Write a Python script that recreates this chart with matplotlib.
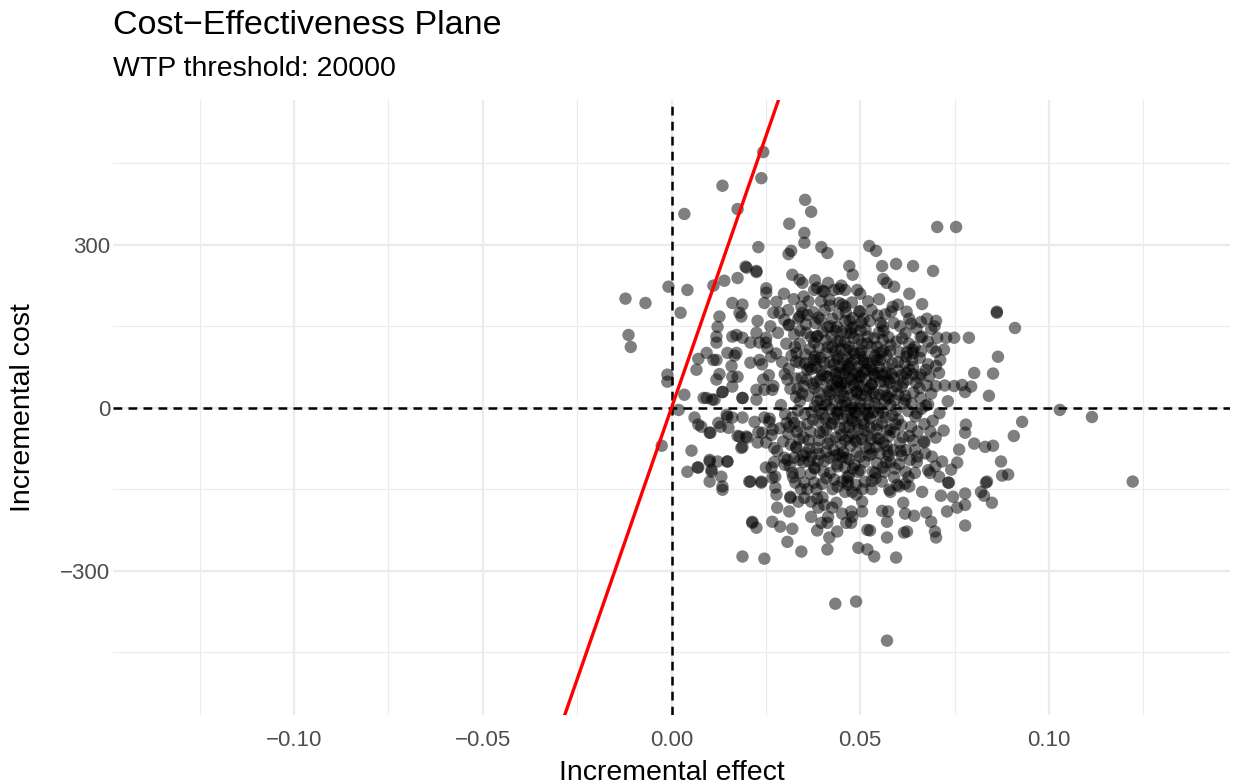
import numpy as np
import matplotlib.pyplot as plt

plt.rcParams['font.family'] = ['Liberation Sans', 'DejaVu Sans']

wtp = 20000

# (incremental effect, incremental cost), grouped by region
upper_pts = [
    (0.0243, 471), (0.0238, 423), (0.0135, 409), (0.0175, 366), (0.0034, 357),
    (0.0354, 383), (0.0370, 361), (0.0312, 339), (0.0352, 322), (0.0704, 333),
    (0.0754, 333), (0.0352, 304), (0.0230, 296), (0.0310, 283), (0.0317, 289),
    (0.0397, 296), (0.0413, 285), (0.0524, 298), (0.0542, 289), (0.0471, 261),
    (0.0196, 260), (0.0225, 252), (0.0175, 239), (0.0140, 234), (0.0111, 225),
    (0.0042, 217), (-0.0008, 223), (-0.0122, 201), (-0.0069, 193), (0.0024, 175),
    (0.0558, 261), (0.0595, 265), (0.0640, 261), (0.0693, 252), (0.0561, 237),
    (0.0590, 223), (0.0630, 210), (0.0664, 191), (0.0862, 177), (0.0677, 164),
]

left_pts = [
    (-0.0114, 134), (-0.0108, 112), (-0.0011, 61), (-0.0011, 48), (0.0019, -4),
    (-0.0026, -70), (0.0053, -79), (0.0042, -118), (0.0069, -110), (0.0101, -96),
    (0.0122, -99), (0.0148, -99), (0.0106, -118), (0.0132, -127), (0.0101, -136),
    (0.0135, -145), (0.0206, -136), (0.0238, -138), (0.0267, -129), (0.0034, 24),
    (0.0085, 18), (0.0108, 15), (0.0061, -18), (0.0071, -31), (0.0103, -46),
    (0.0130, -35), (0.0148, -17), (0.0188, 18), (0.0175, -52), (0.0198, -53),
    (0.0188, -72), (0.0071, 90), (0.0066, 70), (0.0093, 101), (0.0119, 88),
    (0.0119, 52), (0.0135, 29), (0.0161, 131), (0.0161, 57), (0.0175, 57),
    (0.0119, 131), (0.0119, 120), (0.0135, -151),
]

right_pts = [
    (0.0862, 175), (0.0910, 147), (0.0788, 129), (0.0865, 94), (0.0802, 64),
    (0.0852, 63), (0.0794, 39), (0.0778, 29), (0.0841, 22), (0.0749, 40),
    (0.1029, -4), (0.1114, -17), (0.0929, -26), (0.0907, -52), (0.0802, -66),
    (0.0831, -72), (0.0852, -70), (0.0873, -99), (0.0876, -125), (0.0892, -123),
    (0.0836, -136), (0.1222, -136), (0.0780, -31), (0.0778, -46), (0.0762, -77),
    (0.0757, -101), (0.0717, -99), (0.0741, -114), (0.0709, -127), (0.0733, -138),
]

lower_pts = [
    (0.0188, -274), (0.0246, -278), (0.0434, -361), (0.0489, -357), (0.0571, -429),
    (0.0344, -265), (0.0307, -247), (0.0214, -212), (0.0225, -221), (0.0288, -219),
    (0.0320, -223), (0.0280, -184), (0.0312, -191), (0.0278, -160), (0.0315, -164),
    (0.0336, -173), (0.0370, -173), (0.0386, -167), (0.0426, -184), (0.0437, -175),
    (0.0397, -212), (0.0413, -212), (0.0386, -226), (0.0418, -239), (0.0413, -261),
    (0.0439, -228), (0.0463, -212), (0.0476, -212), (0.0476, -191), (0.0505, -191),
    (0.0495, -258), (0.0519, -261), (0.0537, -274), (0.0519, -225), (0.0460, -155),
    (0.0466, -136), (0.0489, -142), (0.0505, -173), (0.0595, -276), (0.0571, -239),
    (0.0616, -230), (0.0624, -228), (0.0701, -239), (0.0698, -228), (0.0688, -210),
    (0.0675, -193), (0.0643, -199), (0.0619, -195), (0.0614, -175), (0.0664, -155),
    (0.0714, -162), (0.0746, -164), (0.0778, -158), (0.0778, -179), (0.0757, -184),
    (0.0730, -191), (0.0778, -217), (0.0849, -175), (0.0828, -162), (0.0820, -155),
    (0.0833, -138), (0.0574, -191), (0.0558, -190), (0.0571, -210), (0.0526, -226),
    (0.0577, -151), (0.0603, -145), (0.0619, -140), (0.0685, -120), (0.0735, -138),
]

mid_pts = [
    (0.0199, 258), (0.0225, 250), (0.0251, 220), (0.0251, 212), (0.0320, 245),
    (0.0339, 236), (0.0347, 230), (0.0378, 217), (0.0405, 214), (0.0415, 230),
    (0.0386, 221), (0.0431, 217), (0.0444, 219), (0.0460, 217), (0.0492, 217),
    (0.0278, 195), (0.0246, 193), (0.0161, 193), (0.0188, 190), (0.0180, 175),
    (0.0185, 168), (0.0127, 168), (0.0122, 149), (0.0228, 160), (0.0286, 175),
    (0.0299, 162), (0.0312, 153), (0.0339, 168), (0.0347, 175), (0.0389, 166),
    (0.0418, 199), (0.0444, 193), (0.0460, 186), (0.0497, 177), (0.0484, 149),
    (0.0503, 157), (0.0439, 149), (0.0465, 138), (0.0357, 138), (0.0384, 131),
    (0.0378, 120), (0.0225, 138), (0.0251, 129), (0.0233, 120), (0.0172, 134),
    (0.0188, 129), (0.0209, 120), (0.0172, 101), (0.0148, 101), (0.0254, 110),
    (0.0264, 94), (0.0167, 96), (0.0111, 88), (0.0233, 88), (0.0209, 83),
    (0.0159, 77), (0.0127, 62), (0.0243, 52), (0.0331, 101), (0.0339, 83),
    (0.0365, 75), (0.0384, 88), (0.0410, 101), (0.0426, 112), (0.0447, 123),
    (0.0463, 107), (0.0476, 83), (0.0307, 52), (0.0394, 52), (0.0476, 52),
    (0.0586, 186), (0.0582, 177), (0.0623, 177), (0.0661, 158), (0.0630, 164),
    (0.0701, 160), (0.0688, 145), (0.0664, 131), (0.0704, 129), (0.0728, 129),
    (0.0749, 129), (0.0722, 107), (0.0701, 103), (0.0638, 107), (0.0674, 70),
    (0.0701, 77), (0.0661, 61), (0.0677, 41), (0.0724, 41), (0.0770, 42),
    (0.0622, 94), (0.0640, 75), (0.0622, 64), (0.0648, 46), (0.0561, 105),
    (0.0553, 88), (0.0527, 75), (0.0540, 57), (0.0569, 64), (0.0580, 46),
    (0.0503, 105), (0.0511, 83), (0.0497, 57),
    (0.0093, 18), (0.0114, 15), (0.0135, 29), (0.0161, 39), (0.0188, 18),
    (0.0225, 33), (0.0246, 33), (0.0267, 33), (0.0225, 15), (0.0146, -13),
    (0.0161, -18), (0.0124, -28), (0.0151, -37), (0.0079, -35), (0.0101, -46),
    (0.0188, -18), (0.0220, -26), (0.0246, -18), (0.0259, -26), (0.0180, -53),
    (0.0201, -55), (0.0185, -74), (0.0228, -64), (0.0251, -64), (0.0272, -74),
    (0.0241, -46), (0.0265, -50), (0.0312, -35), (0.0325, -28), (0.0331, -74),
    (0.0101, -99), (0.0106, -114), (0.0148, -99), (0.0071, -110), (0.0299, -92),
    (0.0307, -96), (0.0339, -96), (0.0365, -99), (0.0378, -110), (0.0209, -136),
    (0.0238, -136), (0.0265, -110), (0.0275, -127), (0.0275, -147), (0.0320, -120),
    (0.0328, -138), (0.0352, -138), (0.0378, -138), (0.0315, -166), (0.0352, -166),
    (0.0214, -210), (0.0267, -210), (0.0357, -83), (0.0386, -74), (0.0410, -81),
    (0.0434, -88), (0.0452, -90), (0.0405, -179), (0.0389, -184), (0.0452, -136),
    (0.0468, -142), (0.0479, -155), (0.0452, -195), (0.0479, -201), (0.0370, -201),
    (0.0415, -201),
]

core_pts = [
    (0.031, 152), (0.034, 118), (0.036, 171), (0.038, 95), (0.040, 140),
    (0.042, 188), (0.044, 122), (0.046, 160), (0.048, 105), (0.050, 178),
    (0.052, 131), (0.054, 92), (0.056, 150), (0.058, 115), (0.060, 84),
    (0.062, 137), (0.064, 101), (0.030, 62), (0.033, 85), (0.035, 40),
    (0.037, 71), (0.039, 28), (0.041, 58), (0.043, 80), (0.045, 45),
    (0.047, 72), (0.049, 30), (0.051, 66), (0.053, 42), (0.055, 75),
    (0.057, 22), (0.059, 55), (0.061, 38), (0.063, 70), (0.066, 18),
    (0.029, 5), (0.032, -18), (0.034, 12), (0.036, -30), (0.038, 3),
    (0.040, -12), (0.042, 25), (0.044, -5), (0.046, 10), (0.048, -25),
    (0.050, 8), (0.052, -14), (0.054, 20), (0.056, -8), (0.058, 5),
    (0.060, -22), (0.062, 15), (0.065, -10), (0.068, 6), (0.031, -48),
    (0.033, -72), (0.035, -55), (0.037, -90), (0.039, -60), (0.041, -40),
    (0.043, -78), (0.045, -50), (0.047, -95), (0.049, -62), (0.051, -42),
    (0.053, -85), (0.055, -58), (0.057, -70), (0.059, -45), (0.061, -88),
    (0.063, -52), (0.067, -64), (0.030, -105), (0.034, -120), (0.038, -112),
    (0.041, -130), (0.044, -108), (0.047, -125), (0.050, -115), (0.053, -135),
    (0.056, -110), (0.059, -128), (0.062, -118), (0.065, -100), (0.069, -90),
    (0.0325, 135), (0.0355, 98), (0.0395, 162), (0.0415, 112), (0.0435, 142),
    (0.0455, 88), (0.0475, 138), (0.0505, 118), (0.0525, 160), (0.0545, 112),
    (0.0575, 130), (0.0605, 102), (0.0635, 155), (0.0315, 35), (0.0345, 55),
    (0.0385, 48), (0.0405, 82), (0.0425, 42), (0.0445, 64), (0.0465, 35),
    (0.0485, 88), (0.0515, 52), (0.0535, 28), (0.0565, 48), (0.0585, 82),
    (0.0625, 52), (0.0305, -28), (0.0335, -5), (0.0375, -22), (0.0395, 15),
    (0.0425, -30), (0.0445, 18), (0.0465, -15), (0.0495, -40), (0.0515, 22),
    (0.0545, -32), (0.0565, 12), (0.0595, -5), (0.0635, -35), (0.0325, -92),
    (0.0365, -75), (0.0405, -98), (0.0435, -55), (0.0455, -82), (0.0485, -105),
    (0.0515, -72), (0.0545, -102), (0.0575, -88), (0.0605, -65), (0.0645, -78),
    (0.025, 120), (0.027, 40), (0.026, -20), (0.028, -80), (0.024, 80),
    (0.023, -45), (0.027, 175), (0.025, -110), (0.066, 130), (0.068, 80),
    (0.070, 40), (0.067, -30), (0.070, -55), (0.069, 110), (0.071, -10),
    (0.068, -115), (0.035, 205), (0.040, 215), (0.045, 225), (0.050, 210),
    (0.055, 200), (0.060, 190), (0.038, 235), (0.048, 245), (0.057, 230),
    (0.036, -150), (0.040, -165), (0.044, -145), (0.049, -160), (0.053, -150),
    (0.058, -155), (0.063, -145), (0.040, 60), (0.041, 5), (0.043, -20),
    (0.044, 95), (0.045, 30), (0.046, -60), (0.047, 55), (0.048, 0),
    (0.049, -10), (0.050, 40), (0.051, -30), (0.046, 70), (0.043, 15),
    (0.047, -35), (0.042, -60), (0.052, 82), (0.039, -25), (0.055, 0),
    (0.044, 50), (0.049, 65), (0.037, 130), (0.042, 150), (0.046, 120),
    (0.051, 95), (0.056, 125), (0.039, 110), (0.053, 180), (0.048, 165),
    (0.035, -100), (0.039, -85), (0.046, -110), (0.050, -90), (0.054, -120),
    (0.058, -100), (0.042, -120), (0.033, 20), (0.036, 70), (0.058, -40),
    (0.061, 60), (0.064, -60), (0.060, 25), (0.057, 95), (0.034, -35),
]

dense_pts = [
    (0.0412, 35), (0.0428, 68), (0.0441, -12), (0.0457, 22), (0.0468, 92),
    (0.0479, -48), (0.0488, 14), (0.0496, 76), (0.0507, -22), (0.0518, 118),
    (0.0529, -58), (0.0538, 8), (0.0547, 64), (0.0552, -84), (0.0563, 32),
    (0.0402, -44), (0.0418, -92), (0.0433, 104), (0.0449, -68), (0.0461, 46),
    (0.0473, -4), (0.0482, 128), (0.0491, -82), (0.0502, 58), (0.0513, -2),
    (0.0524, 36), (0.0533, -118), (0.0544, 88), (0.0558, -28), (0.0571, 74),
    (0.0362, 22), (0.0371, -8), (0.0383, 74), (0.0393, -46), (0.0409, 124),
    (0.0421, -2), (0.0436, 38), (0.0451, 140), (0.0463, -92), (0.0476, 24),
    (0.0487, -60), (0.0499, 100), (0.0511, -100), (0.0522, 10), (0.0536, 62),
    (0.0548, -10), (0.0561, -64), (0.0574, 18), (0.0588, -78), (0.0597, 40),
    (0.0609, -32), (0.0618, 82), (0.0627, -6), (0.0641, 28), (0.0652, -44),
    (0.0658, 92), (0.0672, -84), (0.0683, 58), (0.0692, -24), (0.0712, 88),
    (0.0318, 96), (0.0329, 54), (0.0341, 142), (0.0353, -12), (0.0367, 108),
    (0.0379, 36), (0.0388, -98), (0.0397, 68), (0.0414, -66), (0.0426, 164),
    (0.0438, -104), (0.0447, 76), (0.0459, -36), (0.0471, 112), (0.0483, 42),
    (0.0494, -118), (0.0501, 142), (0.0516, 32), (0.0527, -36), (0.0539, 96),
    (0.0549, 138), (0.0557, -136), (0.0568, -18), (0.0579, 104), (0.0591, 14),
    (0.0603, -104), (0.0614, 46), (0.0629, 118), (0.0646, -16), (0.0655, 56),
    (0.0304, 118), (0.0316, -68), (0.0332, -44), (0.0344, 186), (0.0358, 52),
    (0.0369, -122), (0.0381, 156), (0.0392, -4), (0.0406, 180), (0.0419, 84),
    (0.0431, -132), (0.0442, 172), (0.0454, -20), (0.0466, -128), (0.0478, 194),
    (0.0489, -28), (0.0503, 24), (0.0512, -136), (0.0521, 196), (0.0531, 112),
    (0.0542, -72), (0.0553, 48), (0.0566, 172), (0.0577, -52), (0.0589, 156),
    (0.0598, -142), (0.0611, 128), (0.0621, -78), (0.0638, 88), (0.0649, 146),
    (0.0296, -62), (0.0309, 180), (0.0322, -128), (0.0336, 164), (0.0349, -88),
    (0.0363, 196), (0.0374, 44), (0.0387, 132), (0.0399, -140), (0.0411, 12),
    (0.0424, 132), (0.0437, -8), (0.0448, 108), (0.0462, 176), (0.0474, -70),
    (0.0485, 62), (0.0497, -2), (0.0509, 164), (0.0519, -52), (0.0534, -8),
    (0.0546, 170), (0.0555, 102), (0.0569, -100), (0.0582, 62), (0.0594, -30),
    (0.0606, 150), (0.0619, 22), (0.0632, -96), (0.0644, 112), (0.0662, -2),
]

extra_pts = [
    (0.0282, 138), (0.0293, 84), (0.0301, -12), (0.0311, 72), (0.0327, 112),
    (0.0338, -58), (0.0346, 26), (0.0356, 154), (0.0368, -44), (0.0377, 88),
    (0.0386, 12), (0.0396, 196), (0.0403, -118), (0.0413, 148), (0.0422, -28),
    (0.0434, 62), (0.0443, -86), (0.0453, 190), (0.0464, 4), (0.0472, 160),
    (0.0481, -112), (0.0492, 46), (0.0504, -58), (0.0514, 144), (0.0523, -88),
    (0.0532, 70), (0.0541, -130), (0.0551, 24), (0.0562, 142), (0.0572, -42),
    (0.0583, 30), (0.0592, -112), (0.0601, 68), (0.0613, -54), (0.0624, 102),
    (0.0636, 8), (0.0645, -120), (0.0657, 36), (0.0668, -62), (0.0679, 122),
    (0.0688, 26), (0.0699, -108), (0.0709, 64), (0.0721, -42), (0.0732, 12),
    (0.0287, -38), (0.0298, 210), (0.0313, -108), (0.0324, 200), (0.0334, 34),
    (0.0343, -150), (0.0354, 82), (0.0364, -60), (0.0376, 176), (0.0384, -150),
    (0.0394, 92), (0.0407, -20), (0.0416, 56), (0.0427, -150), (0.0439, 90),
    (0.0446, -38), (0.0458, 64), (0.0469, -54), (0.0477, 146), (0.0486, -8),
    (0.0495, 126), (0.0506, -150), (0.0517, 70), (0.0526, -20), (0.0537, 128),
    (0.0543, -40), (0.0554, 156), (0.0564, -118), (0.0573, 52), (0.0585, -14),
    (0.0596, 122), (0.0607, -80), (0.0616, 8), (0.0628, -128), (0.0639, 62),
    (0.0651, -90), (0.0661, 104), (0.0674, 4), (0.0686, -44), (0.0697, 150),
    (0.0258, 60), (0.0268, -40), (0.0262, 150), (0.0272, -100), (0.0277, 100),
    (0.0418, 30), (0.0439, 48), (0.0452, 4), (0.0467, 78), (0.0478, -20),
    (0.0491, 28), (0.0508, 88), (0.0520, -10), (0.0531, 44), (0.0546, -56),
    (0.0559, 60), (0.0572, -80), (0.0446, 40), (0.0484, 100), (0.0525, -75),
]

all_pts = np.array(upper_pts + left_pts + right_pts + lower_pts
                   + mid_pts + core_pts + dense_pts + extra_pts)
incr_effect = all_pts[:, 0]
incr_cost = all_pts[:, 1]

fig = plt.figure(figsize=(12.35, 7.84), dpi=100)
ax = fig.add_axes([0.0915, 0.088, 0.9045, 0.7845])

ax.set_xlim(-0.148, 0.148)
ax.set_ylim(-566, 567)

ax.set_xticks([-0.10, -0.05, 0.00, 0.05, 0.10])
ax.set_xticklabels(['\u22120.10', '\u22120.05', '0.00', '0.05', '0.10'])
ax.set_yticks([-300, 0, 300])
ax.set_yticklabels(['\u2212300', '0', '300'])
ax.set_xticks([-0.125, -0.075, -0.025, 0.025, 0.075, 0.125], minor=True)
ax.set_yticks([-450, -150, 150, 450], minor=True)

ax.grid(which='major', color='#EBEBEB', lw=1.6)
ax.grid(which='minor', color='#EBEBEB', lw=0.8)
ax.set_axisbelow(True)
ax.tick_params(which='both', length=0, labelsize=16, labelcolor='#4D4D4D')
ax.tick_params(axis='x', pad=11)
ax.tick_params(axis='y', pad=2)
for sp in ax.spines.values():
    sp.set_visible(False)

ax.axhline(0, color='black', ls=(0, (3.5, 2.5)), lw=1.8, zorder=1)
ax.axvline(0, color='black', ls=(0, (3.5, 2.5)), lw=1.8, zorder=1)

ax.scatter(incr_effect, incr_cost, s=80, color='black', alpha=0.5,
           edgecolors='none', zorder=2)

ax.axline((0, 0), slope=wtp, color='red', lw=2.4, zorder=3)

fig.text(672 / 1235, 1 - 780 / 784, 'Incremental effect', fontsize=20.5,
         ha='center', va='baseline')
fig.text(23 / 1235, 1 - 408 / 784, 'Incremental cost', fontsize=20.5,
         ha='center', va='center', rotation=90)

fig.text(0.0915, 1 - 26 / 784, 'Cost\u2212Effectiveness Plane', fontsize=24.5,
         va='center', ha='left')
fig.text(0.0915, 1 - 69 / 784, 'WTP threshold: 20000', fontsize=20.5,
         va='center', ha='left')

fig.savefig('out.png', dpi=100)
